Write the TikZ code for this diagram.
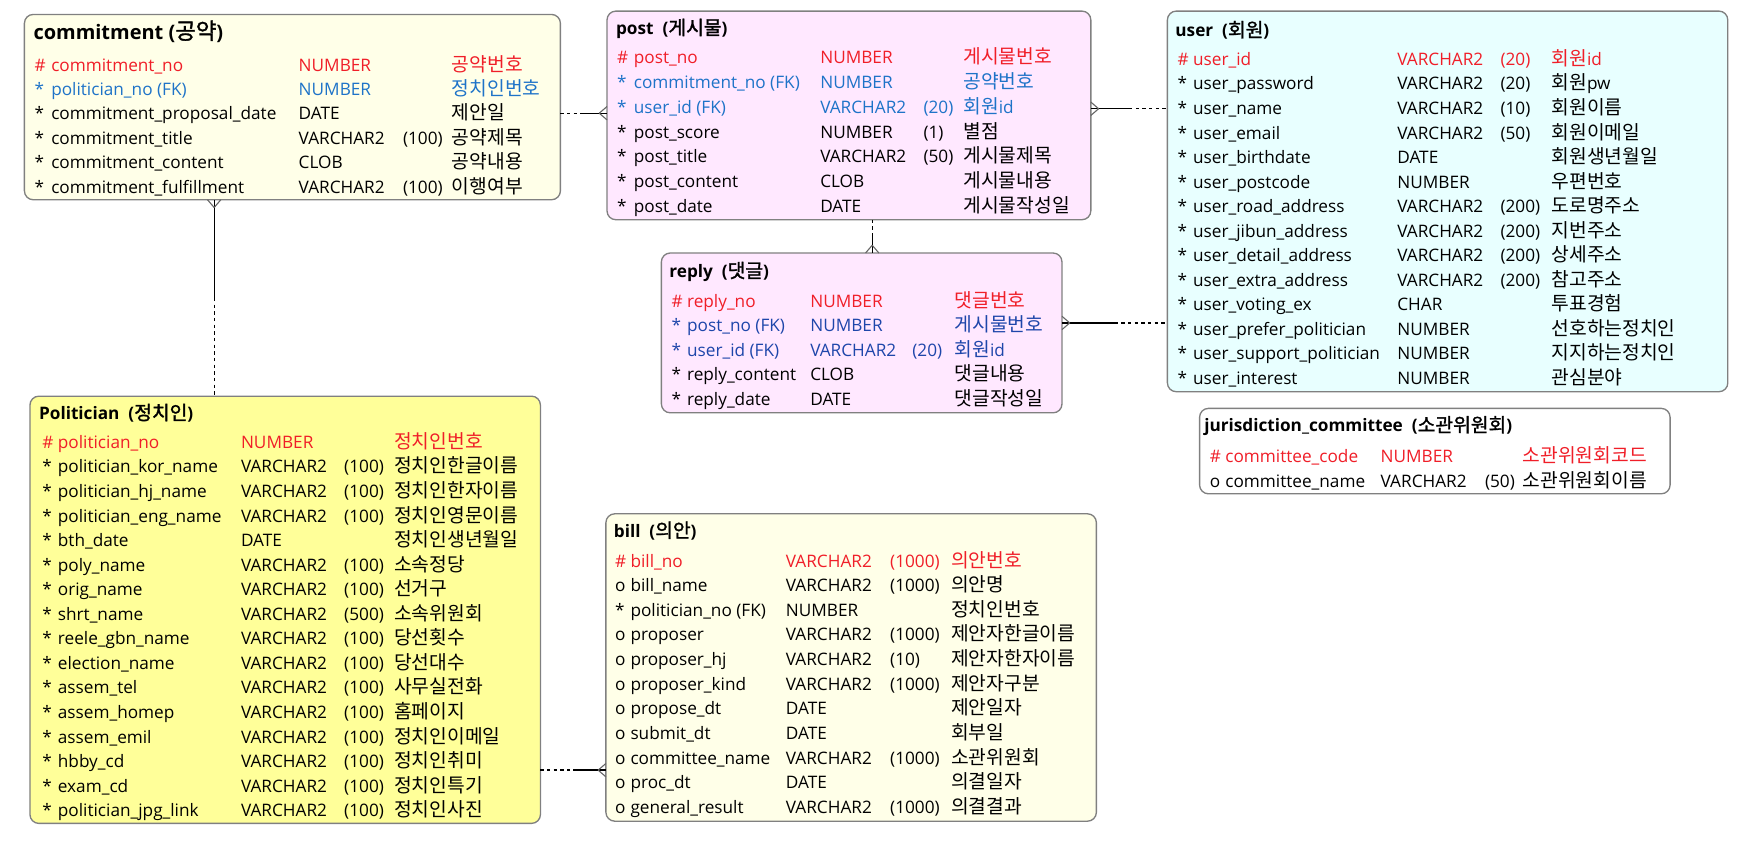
\documentclass[tikz,border=0pt]{standalone}
\usepackage{fontspec}
\setmainfont{Open Sans}
\newfontfamily\krfont{Noto Sans CJK KR}[Scale=1.12,AutoFakeBold=1.5]
\usetikzlibrary{calc}
\newcommand\K[1]{{\krfont #1}}
\definecolor{ered}{RGB}{240,30,40}
\definecolor{eblue}{RGB}{30,115,200}
\definecolor{eblueb}{RGB}{30,70,170}
\definecolor{fyel}{RGB}{255,255,232}
\definecolor{fpink}{RGB}{255,232,255}
\definecolor{fcyan}{RGB}{232,255,255}
\definecolor{fpol}{RGB}{255,255,153}
\definecolor{bgray}{RGB}{128,128,128}
\newcount\rc
\newcommand\colset[5]{\def\cmk{#1}\def\cnm{#2}\def\cty{#3}\def\csz{#4}\def\ccm{#5}}
\newcommand\rw[7]{\global\advance\rc by 1
 \node[txt,text=#2] (m\the\rc) at (\cmk,#1) {#3};
 \node[txt,text=#2] (n\the\rc) at (\cnm,#1) {#4};
 \node[txt,text=#2] (t\the\rc) at (\cty,#1) {#5};
 \def\tmpsz{#6}\ifx\tmpsz\empty\else\node[txt,text=#2] (s\the\rc) at (\csz,#1) {#6};\fi
 \node[txt,text=#2] (c\the\rc) at (\ccm,#1) {#7};}
\begin{document}
\begin{tikzpicture}[x=1pt,y=-1pt,
  box/.style={draw=bgray,line width=1.2pt,rounded corners=8pt,anchor=north west,inner sep=0pt,outer sep=0pt},
  txt/.style={anchor=west,inner sep=0pt,yshift=-3pt,text height=11pt,text depth=3pt,font=\fontsize{15.5}{18}\selectfont},
  ttl/.style={anchor=west,inner sep=0pt,yshift=-3pt,text height=12pt,text depth=3.5pt,font=\fontsize{15.5}{18}\selectfont\bfseries},
  conn/.style={line width=1.2pt,black},
  dsh/.style={line width=1.2pt,black,dash pattern=on 3pt off 3pt},
  crow/.style={line width=1pt,black!60}]
\useasboundingbox (0,0) rectangle (1568,760.6);
% boxes
\node[box,fill=fyel,minimum width=483pt,minimum height=167pt] (commitment) at (22,13) {};
\node[box,fill=fpink,minimum width=436pt,minimum height=188pt] (post) at (547,10) {};
\node[box,fill=fcyan,minimum width=505pt,minimum height=343pt] (user) at (1052,10) {};
\node[box,fill=fpink,minimum width=361pt,minimum height=144pt] (reply) at (596,228) {};
\node[box,fill=white,minimum width=424pt,minimum height=77pt] (juris) at (1081,368) {};
\node[box,fill=fpol,minimum width=460pt,minimum height=385pt] (politician) at (27,357) {};
\node[box,fill=fyel,minimum width=442pt,minimum height=277pt] (bill) at (546,463) {};
% connectors
% commitment - post
\coordinate (a1) at (commitment.east |- 0,102);
\coordinate (b1) at (post.west |- 0,102);
\coordinate (h1) at ($(a1)!0.5!(b1)$);
\draw[dsh] (a1) -- (h1);
\draw[conn] (h1) -- (b1);
\draw[crow] ([xshift=-7pt]b1) -- ([yshift=6pt]b1) ([xshift=-7pt]b1) -- ([yshift=-6pt]b1);
% post - user
\coordinate (a2) at (post.east |- 0,98);
\coordinate (b2) at (user.west |- 0,98);
\coordinate (h2) at ($(a2)!0.5!(b2)$);
\draw[conn] (a2) -- (h2);
\draw[dsh] (h2) -- (b2);
\draw[crow] ([xshift=7pt]a2) -- ([yshift=6pt]a2) ([xshift=7pt]a2) -- ([yshift=-6pt]a2);
% post - reply
\coordinate (a3) at (post.south -| 786,0);
\coordinate (b3) at (reply.north -| 786,0);
\coordinate (h3) at ($(a3)!0.5!(b3)$);
\draw[dsh] (a3) -- (h3);
\draw[conn] (h3) -- (b3);
\draw[crow] ([yshift=7pt]b3) -- ([xshift=6pt]b3) ([yshift=7pt]b3) -- ([xshift=-6pt]b3);
% reply - user
\coordinate (a4) at (reply.east |- 0,291);
\coordinate (b4) at (user.west |- 0,291);
\coordinate (h4) at ($(a4)!0.5!(b4)$);
\draw[conn] (a4) -- (h4);
\draw[dsh] (h4) -- (b4);
\draw[crow] ([xshift=7pt]a4) -- ([yshift=6pt]a4) ([xshift=7pt]a4) -- ([yshift=-6pt]a4);
% commitment - politician
\coordinate (a5) at (commitment.south -| 193,0);
\coordinate (b5) at (politician.north -| 193,0);
\coordinate (h5) at ($(a5)!0.5!(b5)$);
\draw[conn] (a5) -- (h5);
\draw[dsh] (h5) -- (b5);
\draw[crow] ([yshift=-7pt]a5) -- ([xshift=6pt]a5) ([yshift=-7pt]a5) -- ([xshift=-6pt]a5);
% politician - bill
\coordinate (a6) at (politician.east |- 0,694);
\coordinate (b6) at (bill.west |- 0,694);
\coordinate (h6) at ($(a6)!0.5!(b6)$);
\draw[dsh] (a6) -- (h6);
\draw[conn] (h6) -- (b6);
\draw[crow] ([xshift=-7pt]b6) -- ([yshift=6pt]b6) ([xshift=-7pt]b6) -- ([yshift=-6pt]b6);
% ---------- commitment
\node[ttl,font=\fontsize{18}{21}\selectfont\bfseries] (tcommit) at (30,28) {commitment (\K{공약})};
\colset{31}{46}{269}{363}{407}
\rw{57}{ered}{\#}{commitment\_no}{NUMBER}{}{\K{공약번호}}
\rw{79}{eblue}{*}{politician\_no (FK)}{NUMBER}{}{\K{정치인번호}}
\rw{101}{black}{*}{commitment\_proposal\_date}{DATE}{}{\K{제안일}}
\rw{123}{black}{*}{commitment\_title}{VARCHAR2}{(100)}{\K{공약제목}}
\rw{145}{black}{*}{commitment\_content}{CLOB}{}{\K{공약내용}}
\rw{167}{black}{*}{commitment\_fulfillment}{VARCHAR2}{(100)}{\K{이행여부}}
% ---------- post
\node[ttl] (tpost) at (555,24) {post\ \ (\K{게시물})};
\colset{556}{571}{739}{832}{868}
\rw{50.5}{ered}{\#}{post\_no}{NUMBER}{}{\K{게시물번호}}
\rw{72.8}{eblue}{*}{commitment\_no (FK)}{NUMBER}{}{\K{공약번호}}
\rw{95.1}{eblue}{*}{user\_id (FK)}{VARCHAR2}{(20)}{\K{회원}id}
\rw{117.4}{black}{*}{post\_score}{NUMBER}{(1)}{\K{별점}}
\rw{139.7}{black}{*}{post\_title}{VARCHAR2}{(50)}{\K{게시물제목}}
\rw{162}{black}{*}{post\_content}{CLOB}{}{\K{게시물내용}}
\rw{184.3}{black}{*}{post\_date}{DATE}{}{\K{게시물작성일}}
% ---------- user
\node[ttl] (tuser) at (1059,26) {user\ \ (\K{회원})};
\colset{1061}{1075}{1259}{1352}{1398}
\rw{52}{ered}{\#}{user\_id}{VARCHAR2}{(20)}{\K{회원}id}
\rw{74.1}{black}{*}{user\_password}{VARCHAR2}{(20)}{\K{회원}pw}
\rw{96.2}{black}{*}{user\_name}{VARCHAR2}{(10)}{\K{회원이름}}
\rw{118.3}{black}{*}{user\_email}{VARCHAR2}{(50)}{\K{회원이메일}}
\rw{140.4}{black}{*}{user\_birthdate}{DATE}{}{\K{회원생년월일}}
\rw{162.5}{black}{*}{user\_postcode}{NUMBER}{}{\K{우편번호}}
\rw{184.6}{black}{*}{user\_road\_address}{VARCHAR2}{(200)}{\K{도로명주소}}
\rw{206.7}{black}{*}{user\_jibun\_address}{VARCHAR2}{(200)}{\K{지번주소}}
\rw{228.8}{black}{*}{user\_detail\_address}{VARCHAR2}{(200)}{\K{상세주소}}
\rw{250.9}{black}{*}{user\_extra\_address}{VARCHAR2}{(200)}{\K{참고주소}}
\rw{273}{black}{*}{user\_voting\_ex}{CHAR}{}{\K{투표경험}}
\rw{295.1}{black}{*}{user\_prefer\_politician}{NUMBER}{}{\K{선호하는정치인}}
\rw{317.2}{black}{*}{user\_support\_politician}{NUMBER}{}{\K{지지하는정치인}}
\rw{339.3}{black}{*}{user\_interest}{NUMBER}{}{\K{관심분야}}
% ---------- reply
\node[ttl] (treply) at (603,243) {reply\ \ (\K{댓글})};
\colset{605}{619}{730}{822}{860}
\rw{270}{ered}{\#}{reply\_no}{NUMBER}{}{\K{댓글번호}}
\rw{292}{eblueb}{*}{post\_no (FK)}{NUMBER}{}{\K{게시물번호}}
\rw{314}{eblueb}{*}{user\_id (FK)}{VARCHAR2}{(20)}{\K{회원}id}
\rw{336}{black}{*}{reply\_content}{CLOB}{}{\K{댓글내용}}
\rw{358}{black}{*}{reply\_date}{DATE}{}{\K{댓글작성일}}
% ---------- jurisdiction
\node[ttl] (tjuris) at (1085,382) {jurisdiction\_committee\ \ (\K{소관위원회})};
\colset{1090}{1104}{1244}{1338}{1372}
\rw{410}{ered}{\#}{committee\_code}{NUMBER}{}{\K{소관위원회코드}}
\rw{432}{black}{o}{committee\_name}{VARCHAR2}{(50)}{\K{소관위원회이름}}
% ---------- politician
\node[ttl] (tpol) at (35,371) {Politician\ \ (\K{정치인})};
\colset{38}{52}{217}{310}{355}
\rw{397}{ered}{\#}{politician\_no}{NUMBER}{}{\K{정치인번호}}
\rw{419.1}{black}{*}{politician\_kor\_name}{VARCHAR2}{(100)}{\K{정치인한글이름}}
\rw{441.3}{black}{*}{politician\_hj\_name}{VARCHAR2}{(100)}{\K{정치인한자이름}}
\rw{463.4}{black}{*}{politician\_eng\_name}{VARCHAR2}{(100)}{\K{정치인영문이름}}
\rw{485.5}{black}{*}{bth\_date}{DATE}{}{\K{정치인생년월일}}
\rw{507.7}{black}{*}{poly\_name}{VARCHAR2}{(100)}{\K{소속정당}}
\rw{529.8}{black}{*}{orig\_name}{VARCHAR2}{(100)}{\K{선거구}}
\rw{551.9}{black}{*}{shrt\_name}{VARCHAR2}{(500)}{\K{소속위원회}}
\rw{574}{black}{*}{reele\_gbn\_name}{VARCHAR2}{(100)}{\K{당선횟수}}
\rw{596.2}{black}{*}{election\_name}{VARCHAR2}{(100)}{\K{당선대수}}
\rw{618.3}{black}{*}{assem\_tel}{VARCHAR2}{(100)}{\K{사무실전화}}
\rw{640.4}{black}{*}{assem\_homep}{VARCHAR2}{(100)}{\K{홈페이지}}
\rw{662.6}{black}{*}{assem\_emil}{VARCHAR2}{(100)}{\K{정치인이메일}}
\rw{684.7}{black}{*}{hbby\_cd}{VARCHAR2}{(100)}{\K{정치인취미}}
\rw{706.8}{black}{*}{exam\_cd}{VARCHAR2}{(100)}{\K{정치인특기}}
\rw{729}{black}{*}{politician\_jpg\_link}{VARCHAR2}{(100)}{\K{정치인사진}}
% ---------- bill
\node[ttl] (tbill) at (553,477) {bill\ \ (\K{의안})};
\colset{554}{568}{708}{802}{857}
\rw{504}{ered}{\#}{bill\_no}{VARCHAR2}{(1000)}{\K{의안번호}}
\rw{526.2}{black}{o}{bill\_name}{VARCHAR2}{(1000)}{\K{의안명}}
\rw{548.4}{black}{*}{politician\_no (FK)}{NUMBER}{}{\K{정치인번호}}
\rw{570.6}{black}{o}{proposer}{VARCHAR2}{(1000)}{\K{제안자한글이름}}
\rw{592.8}{black}{o}{proposer\_hj}{VARCHAR2}{(10)}{\K{제안자한자이름}}
\rw{615}{black}{o}{proposer\_kind}{VARCHAR2}{(1000)}{\K{제안자구분}}
\rw{637.2}{black}{o}{propose\_dt}{DATE}{}{\K{제안일자}}
\rw{659.4}{black}{o}{submit\_dt}{DATE}{}{\K{회부일}}
\rw{681.6}{black}{o}{committee\_name}{VARCHAR2}{(1000)}{\K{소관위원회}}
\rw{703.8}{black}{o}{proc\_dt}{DATE}{}{\K{의결일자}}
\rw{726}{black}{o}{general\_result}{VARCHAR2}{(1000)}{\K{의결결과}}
\end{tikzpicture}
\end{document}
